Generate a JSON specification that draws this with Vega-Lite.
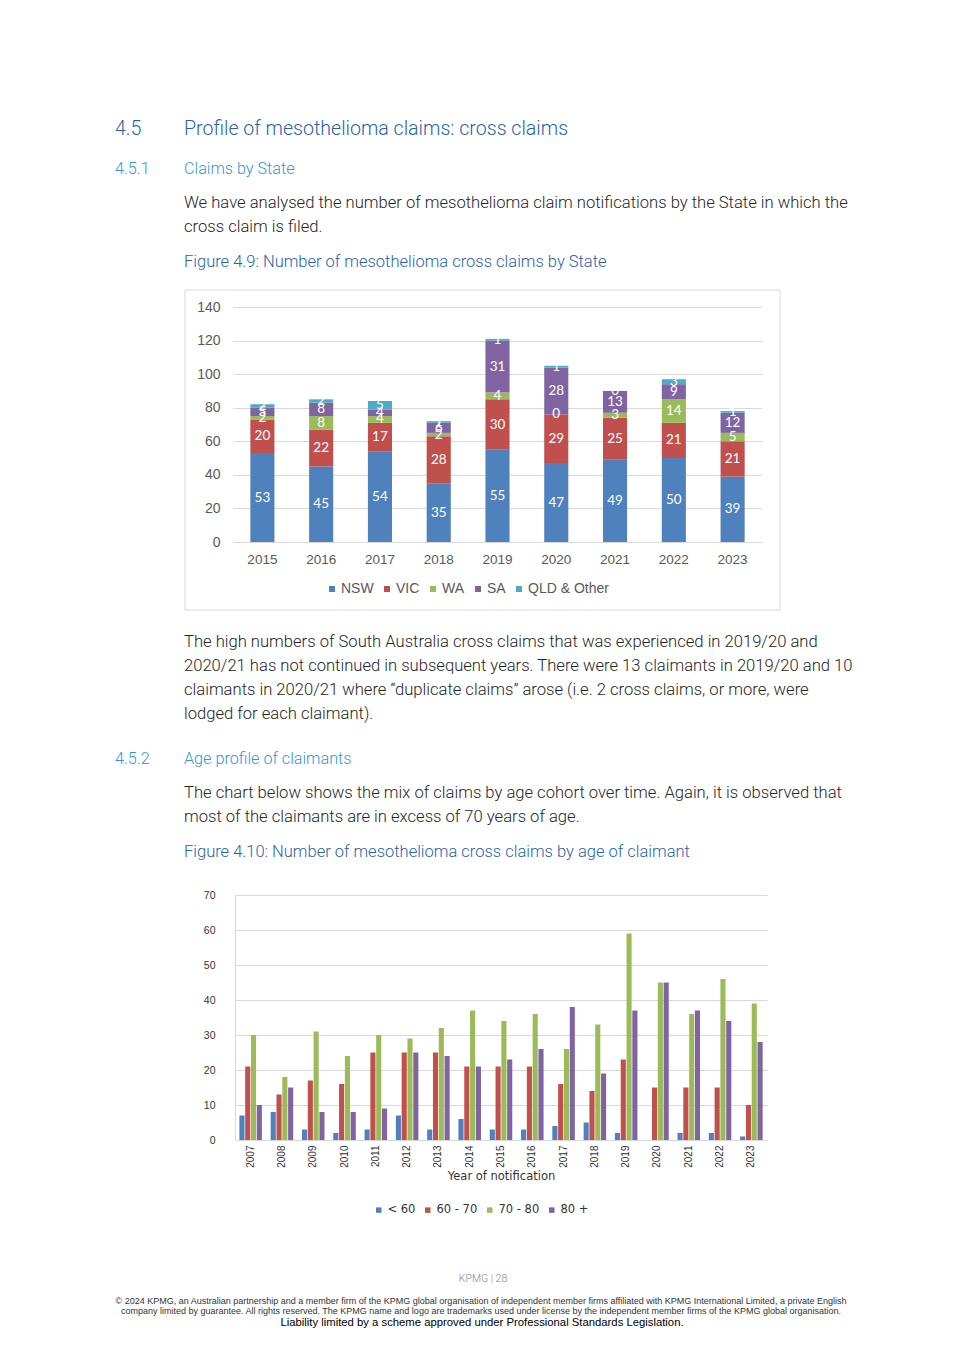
{
  "$schema": "https://vega.github.io/schema/vega-lite/v6.json",
  "width": 965,
  "height": 1365,
  "autosize": "none",
  "padding": 0,
  "background": "white",
  "config": {"view": {"stroke": null}, "font": "Liberation Sans"},
  "datasets": {
    "states": [
      {"year": "2015", "state": "NSW", "k": 1, "n": 53}, {"year": "2015", "state": "VIC", "k": 2, "n": 20}, {"year": "2015", "state": "WA", "k": 3, "n": 2}, {"year": "2015", "state": "SA", "k": 4, "n": 5}, {"year": "2015", "state": "QLD & Other", "k": 5, "n": 2},
      {"year": "2016", "state": "NSW", "k": 1, "n": 45}, {"year": "2016", "state": "VIC", "k": 2, "n": 22}, {"year": "2016", "state": "WA", "k": 3, "n": 8}, {"year": "2016", "state": "SA", "k": 4, "n": 8}, {"year": "2016", "state": "QLD & Other", "k": 5, "n": 2},
      {"year": "2017", "state": "NSW", "k": 1, "n": 54}, {"year": "2017", "state": "VIC", "k": 2, "n": 17}, {"year": "2017", "state": "WA", "k": 3, "n": 4}, {"year": "2017", "state": "SA", "k": 4, "n": 4}, {"year": "2017", "state": "QLD & Other", "k": 5, "n": 5},
      {"year": "2018", "state": "NSW", "k": 1, "n": 35}, {"year": "2018", "state": "VIC", "k": 2, "n": 28}, {"year": "2018", "state": "WA", "k": 3, "n": 2}, {"year": "2018", "state": "SA", "k": 4, "n": 6}, {"year": "2018", "state": "QLD & Other", "k": 5, "n": 1},
      {"year": "2019", "state": "NSW", "k": 1, "n": 55}, {"year": "2019", "state": "VIC", "k": 2, "n": 30}, {"year": "2019", "state": "WA", "k": 3, "n": 4}, {"year": "2019", "state": "SA", "k": 4, "n": 31}, {"year": "2019", "state": "QLD & Other", "k": 5, "n": 1},
      {"year": "2020", "state": "NSW", "k": 1, "n": 47}, {"year": "2020", "state": "VIC", "k": 2, "n": 29}, {"year": "2020", "state": "WA", "k": 3, "n": 0}, {"year": "2020", "state": "SA", "k": 4, "n": 28}, {"year": "2020", "state": "QLD & Other", "k": 5, "n": 1},
      {"year": "2021", "state": "NSW", "k": 1, "n": 49}, {"year": "2021", "state": "VIC", "k": 2, "n": 25}, {"year": "2021", "state": "WA", "k": 3, "n": 3}, {"year": "2021", "state": "SA", "k": 4, "n": 13}, {"year": "2021", "state": "QLD & Other", "k": 5, "n": 0},
      {"year": "2022", "state": "NSW", "k": 1, "n": 50}, {"year": "2022", "state": "VIC", "k": 2, "n": 21}, {"year": "2022", "state": "WA", "k": 3, "n": 14}, {"year": "2022", "state": "SA", "k": 4, "n": 9}, {"year": "2022", "state": "QLD & Other", "k": 5, "n": 3},
      {"year": "2023", "state": "NSW", "k": 1, "n": 39}, {"year": "2023", "state": "VIC", "k": 2, "n": 21}, {"year": "2023", "state": "WA", "k": 3, "n": 5}, {"year": "2023", "state": "SA", "k": 4, "n": 12}, {"year": "2023", "state": "QLD & Other", "k": 5, "n": 1}
    ],
    "ages": [
      {"year": "2007", "age": "< 60", "n": 7}, {"year": "2007", "age": "60 - 70", "n": 21}, {"year": "2007", "age": "70 - 80", "n": 30}, {"year": "2007", "age": "80 +", "n": 10},
      {"year": "2008", "age": "< 60", "n": 8}, {"year": "2008", "age": "60 - 70", "n": 13}, {"year": "2008", "age": "70 - 80", "n": 18}, {"year": "2008", "age": "80 +", "n": 15},
      {"year": "2009", "age": "< 60", "n": 3}, {"year": "2009", "age": "60 - 70", "n": 17}, {"year": "2009", "age": "70 - 80", "n": 31}, {"year": "2009", "age": "80 +", "n": 8},
      {"year": "2010", "age": "< 60", "n": 2}, {"year": "2010", "age": "60 - 70", "n": 16}, {"year": "2010", "age": "70 - 80", "n": 24}, {"year": "2010", "age": "80 +", "n": 8},
      {"year": "2011", "age": "< 60", "n": 3}, {"year": "2011", "age": "60 - 70", "n": 25}, {"year": "2011", "age": "70 - 80", "n": 30}, {"year": "2011", "age": "80 +", "n": 9},
      {"year": "2012", "age": "< 60", "n": 7}, {"year": "2012", "age": "60 - 70", "n": 25}, {"year": "2012", "age": "70 - 80", "n": 29}, {"year": "2012", "age": "80 +", "n": 25},
      {"year": "2013", "age": "< 60", "n": 3}, {"year": "2013", "age": "60 - 70", "n": 25}, {"year": "2013", "age": "70 - 80", "n": 32}, {"year": "2013", "age": "80 +", "n": 24},
      {"year": "2014", "age": "< 60", "n": 6}, {"year": "2014", "age": "60 - 70", "n": 21}, {"year": "2014", "age": "70 - 80", "n": 37}, {"year": "2014", "age": "80 +", "n": 21},
      {"year": "2015", "age": "< 60", "n": 3}, {"year": "2015", "age": "60 - 70", "n": 21}, {"year": "2015", "age": "70 - 80", "n": 34}, {"year": "2015", "age": "80 +", "n": 23},
      {"year": "2016", "age": "< 60", "n": 3}, {"year": "2016", "age": "60 - 70", "n": 21}, {"year": "2016", "age": "70 - 80", "n": 36}, {"year": "2016", "age": "80 +", "n": 26},
      {"year": "2017", "age": "< 60", "n": 4}, {"year": "2017", "age": "60 - 70", "n": 16}, {"year": "2017", "age": "70 - 80", "n": 26}, {"year": "2017", "age": "80 +", "n": 38},
      {"year": "2018", "age": "< 60", "n": 5}, {"year": "2018", "age": "60 - 70", "n": 14}, {"year": "2018", "age": "70 - 80", "n": 33}, {"year": "2018", "age": "80 +", "n": 19},
      {"year": "2019", "age": "< 60", "n": 2}, {"year": "2019", "age": "60 - 70", "n": 23}, {"year": "2019", "age": "70 - 80", "n": 59}, {"year": "2019", "age": "80 +", "n": 37},
      {"year": "2020", "age": "< 60", "n": 0}, {"year": "2020", "age": "60 - 70", "n": 15}, {"year": "2020", "age": "70 - 80", "n": 45}, {"year": "2020", "age": "80 +", "n": 45},
      {"year": "2021", "age": "< 60", "n": 2}, {"year": "2021", "age": "60 - 70", "n": 15}, {"year": "2021", "age": "70 - 80", "n": 36}, {"year": "2021", "age": "80 +", "n": 37},
      {"year": "2022", "age": "< 60", "n": 2}, {"year": "2022", "age": "60 - 70", "n": 15}, {"year": "2022", "age": "70 - 80", "n": 46}, {"year": "2022", "age": "80 +", "n": 34},
      {"year": "2023", "age": "< 60", "n": 1}, {"year": "2023", "age": "60 - 70", "n": 10}, {"year": "2023", "age": "70 - 80", "n": 39}, {"year": "2023", "age": "80 +", "n": 28}
    ]
  },
  "layer": [
    {
      "data": {"values": [{}]},
      "mark": {"type": "rect", "x": 185, "x2": 780, "y": 290, "y2": 610, "filled": false, "stroke": "#d9d9d9", "strokeWidth": 1},
      "encoding": {}
    },
    {
      "data": {"name": "states"},
      "encoding": {
        "x": {"field": "year", "type": "ordinal", "title": null,
          "scale": {"range": [233, 762], "paddingInner": 0.59, "paddingOuter": 0.295},
          "axis": {"orient": "bottom", "offset": -823, "labelAngle": 0, "domain": true, "domainColor": "#d9d9d9", "ticks": false, "grid": false, "labelFontSize": 13.5, "labelColor": "#595959", "labelPadding": 10}},
        "y": {"field": "n", "type": "quantitative", "stack": "zero", "title": null,
          "scale": {"domain": [0, 140], "range": [542, 307], "nice": false},
          "axis": {"orient": "left", "offset": -233, "values": [0, 20, 40, 60, 80, 100, 120, 140], "domain": false, "ticks": false, "grid": true, "gridColor": "#d9d9d9", "labelFontSize": 14, "labelColor": "#595959", "labelPadding": 13}},
        "order": {"field": "k", "type": "quantitative"}
      },
      "layer": [
        {
          "mark": {"type": "bar"},
          "encoding": {
            "color": {"field": "state", "type": "nominal",
              "scale": {"domain": ["NSW", "VIC", "WA", "SA", "QLD & Other"], "range": ["#4f81bd", "#c0504d", "#9bbb59", "#8064a2", "#4bacc6"]},
              "legend": {"orient": "none", "legendX": 325, "legendY": 582, "direction": "horizontal", "columns": 5, "title": null, "symbolType": "square", "symbolSize": 36, "symbolStrokeWidth": 0, "labelFontSize": 14, "labelColor": "#595959", "columnPadding": 6, "labelOffset": 2, "padding": 0}}
          }
        },
        {
          "mark": {"type": "text", "color": "white", "font": "Lato", "fontSize": 13.5, "baseline": "middle"},
          "encoding": {
            "y": {"field": "n", "type": "quantitative", "stack": "zero", "bandPosition": 0.5, "title": null,
              "scale": {"domain": [0, 140], "range": [542, 307], "nice": false},
              "axis": {"orient": "left", "offset": -233, "values": [0, 20, 40, 60, 80, 100, 120, 140], "domain": false, "ticks": false, "grid": true, "gridColor": "#d9d9d9", "labelFontSize": 14, "labelColor": "#595959", "labelPadding": 13}},
            "detail": {"field": "state"},
            "text": {"field": "n", "type": "quantitative"}
          }
        }
      ]
    },
    {
      "data": {"name": "ages"},
      "mark": {"type": "bar"},
      "encoding": {
        "x": {"field": "year", "type": "ordinal", "title": "Year of notification",
          "scale": {"range": [235, 767], "paddingInner": 0.28, "paddingOuter": 0.14},
          "axis": {"orient": "bottom", "offset": -225, "labelAngle": -90, "domain": true, "domainColor": "#d9d9d9", "ticks": false, "grid": false, "labelFontSize": 10, "labelColor": "#333333", "labelPadding": 5, "titleFont": "DejaVu Sans", "titleFontSize": 11.5, "titleFontWeight": "normal", "titleColor": "#333333", "titleY": 36, "titleBaseline": "middle"}},
        "xOffset": {"field": "age", "type": "nominal", "scale": {"domain": ["< 60", "60 - 70", "70 - 80", "80 +"], "paddingInner": 0.12}},
        "y": {"field": "n", "type": "quantitative", "title": null,
          "scale": {"domain": [0, 70], "range": [1140, 895], "nice": false},
          "axis": {"orient": "left", "offset": -235, "values": [0, 10, 20, 30, 40, 50, 60, 70], "domain": true, "domainColor": "#d9d9d9", "ticks": false, "grid": true, "gridColor": "#d9d9d9", "labelFontSize": 10.5, "labelColor": "#333333", "labelPadding": 20}},
        "color": {"field": "age", "type": "nominal",
          "scale": {"domain": ["< 60", "60 - 70", "70 - 80", "80 +"], "range": ["#4f81bd", "#c0504d", "#9bbb59", "#8064a2"]},
          "legend": {"orient": "none", "legendX": 373, "legendY": 1204, "direction": "horizontal", "columns": 4, "title": null, "symbolType": "square", "symbolSize": 30, "symbolStrokeWidth": 0, "labelFont": "DejaVu Sans", "labelFontSize": 11.5, "labelColor": "#333333", "columnPadding": 6, "labelOffset": 3, "padding": 0}}
      }
    },
    {"data": {"values": [{}]}, "mark": {"type": "text", "x": 115, "y": 129, "text": "4.5", "align": "left", "font": "Roboto", "fontWeight": 300, "fontSize": 19.6, "color": "#2a62ad"}, "encoding": {}},
    {"data": {"values": [{}]}, "mark": {"type": "text", "x": 184, "y": 129, "text": "Profile of mesothelioma claims: cross claims", "align": "left", "font": "Roboto", "fontWeight": 300, "fontSize": 19.6, "color": "#2a62ad"}, "encoding": {}},
    {"data": {"values": [{}]}, "mark": {"type": "text", "x": 115, "y": 169, "text": "4.5.1", "align": "left", "font": "Roboto", "fontWeight": 300, "fontSize": 16.2, "color": "#2e9ad6"}, "encoding": {}},
    {"data": {"values": [{}]}, "mark": {"type": "text", "x": 184, "y": 169, "text": "Claims by State", "align": "left", "font": "Roboto", "fontWeight": 300, "fontSize": 16.2, "color": "#2e9ad6"}, "encoding": {}},
    {"data": {"values": [{}]}, "mark": {"type": "text", "x": 184, "y": 203, "lineHeight": 24, "text": ["We have analysed the number of mesothelioma claim notifications by the State in which the", "cross claim is filed."], "align": "left", "font": "Roboto", "fontWeight": 300, "fontSize": 16.6, "color": "#262626"}, "encoding": {}},
    {"data": {"values": [{}]}, "mark": {"type": "text", "x": 184, "y": 262, "text": "Figure 4.9: Number of mesothelioma cross claims by State", "align": "left", "font": "Roboto", "fontWeight": 300, "fontSize": 16.5, "color": "#2a62ad"}, "encoding": {}},
    {"data": {"values": [{}]}, "mark": {"type": "text", "x": 184, "y": 642, "lineHeight": 24, "text": ["The high numbers of South Australia cross claims that was experienced in 2019/20 and", "2020/21 has not continued in subsequent years. There were 13 claimants in 2019/20 and 10", "claimants in 2020/21 where “duplicate claims” arose (i.e. 2 cross claims, or more, were", "lodged for each claimant)."], "align": "left", "font": "Roboto", "fontWeight": 300, "fontSize": 16.6, "color": "#262626"}, "encoding": {}},
    {"data": {"values": [{}]}, "mark": {"type": "text", "x": 115, "y": 759, "text": "4.5.2", "align": "left", "font": "Roboto", "fontWeight": 300, "fontSize": 16.2, "color": "#2e9ad6"}, "encoding": {}},
    {"data": {"values": [{}]}, "mark": {"type": "text", "x": 184, "y": 759, "text": "Age profile of claimants", "align": "left", "font": "Roboto", "fontWeight": 300, "fontSize": 16.2, "color": "#2e9ad6"}, "encoding": {}},
    {"data": {"values": [{}]}, "mark": {"type": "text", "x": 184, "y": 793, "lineHeight": 24, "text": ["The chart below shows the mix of claims by age cohort over time. Again, it is observed that", "most of the claimants are in excess of 70 years of age."], "align": "left", "font": "Roboto", "fontWeight": 300, "fontSize": 16.6, "color": "#262626"}, "encoding": {}},
    {"data": {"values": [{}]}, "mark": {"type": "text", "x": 184, "y": 852, "text": "Figure 4.10: Number of mesothelioma cross claims by age of claimant", "align": "left", "font": "Roboto", "fontWeight": 300, "fontSize": 16.5, "color": "#2a62ad"}, "encoding": {}},
    {"data": {"values": [{}]}, "mark": {"type": "text", "x": 483, "y": 1279, "text": "KPMG  |  28", "align": "center", "font": "Roboto", "fontWeight": 300, "fontSize": 10.5, "color": "#888888"}, "encoding": {}},
    {"data": {"values": [{}]}, "mark": {"type": "text", "x": 481, "y": 1301, "lineHeight": 10, "text": ["© 2024 KPMG, an Australian partnership and a member firm of the KPMG global organisation of independent member firms affiliated with KPMG International Limited, a private English", "company limited by guarantee. All rights reserved. The KPMG name and logo are trademarks used under license by the independent member  firms of the KPMG global organisation."], "align": "center", "font": "Liberation Sans", "fontSize": 9, "color": "#333333"}, "encoding": {}},
    {"data": {"values": [{}]}, "mark": {"type": "text", "x": 482, "y": 1323, "text": "Liability limited by a scheme approved under Professional Standards Legislation.", "align": "center", "font": "Liberation Sans", "fontSize": 11.3, "color": "#000000"}, "encoding": {}}
  ],
  "resolve": {"scale": {"x": "independent", "y": "independent", "color": "independent"}}
}
